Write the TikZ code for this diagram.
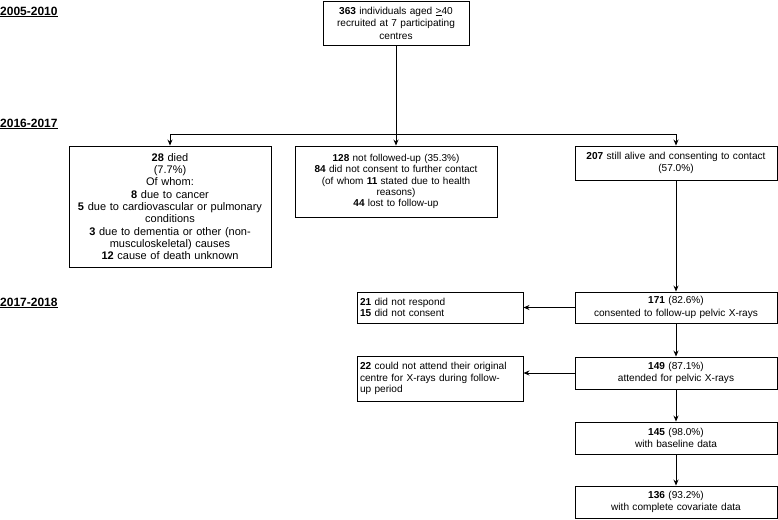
\documentclass[tikz,border=0pt]{standalone}
\usepackage{fontspec}
\setmainfont{Liberation Sans}
\usetikzlibrary{positioning,calc,arrows.meta}
\tikzset{
  box/.style={draw, line width=0.9pt, align=center, text width=196pt, inner sep=3pt, font=\fontsize{10.1}{12.4}\selectfont},
  sidebox/.style={box, align=left, text width=160pt, font=\fontsize{10.1}{11.7}\selectfont},
  year/.style={anchor=west, inner sep=0pt, font=\fontsize{12}{14}\selectfont\bfseries},
  arr/.style={-{Stealth[length=6pt,width=5pt]}, line width=0.9pt}
}
\begin{document}
\begin{tikzpicture}[x=1pt,y=-1pt]
\useasboundingbox (0,0) rectangle (778,519);
\node[year] (y1) at (0,12) {\underline{2005-2010}};
\node[year] (y2) at (0,124) {\underline{2016-2017}};
\node[year] (y3) at (0,303) {\underline{2017-2018}};
\node[box, text width=140pt, minimum height=44pt] (recruit) at (396,23) {\textbf{363} individuals aged \underline{>}40\\recruited at 7 participating\\centres};
\node[box, minimum height=121pt, font=\fontsize{11}{12.3}\selectfont] (died) at (170,206.5) {\textbf{28} died\\(7.7\%)\\Of whom:\\\textbf{8} due to cancer\\\textbf{5} due to cardiovascular or pulmonary\\conditions\\\textbf{3} due to dementia or other (non-\\musculoskeletal) causes\\\textbf{12} cause of death unknown};
\node[box, minimum height=71pt, font=\fontsize{10}{11.3}\selectfont] (notfu) at (396,181.5) {\textbf{128} not followed-up (35.3\%)\\\textbf{84} did not consent to further contact\\(of whom \textbf{11} stated due to health\\reasons)\\\textbf{44} lost to follow-up};
\node[box, minimum height=34pt] (alive) at (676,163) {\textbf{207} still alive and consenting to contact\\(57.0\%)};
\node[box, minimum height=31pt] (consent) at (676,307.5) {\textbf{171} (82.6\%)\\consented to follow-up pelvic X-rays};
\node[box, minimum height=32pt] (attend) at (676,373) {\textbf{149} (87.1\%)\\attended for pelvic X-rays};
\node[box, minimum height=32pt] (baseline) at (676,438) {\textbf{145} (98.0\%)\\with baseline data};
\node[box, minimum height=32pt] (complete) at (676,502) {\textbf{136} (93.2\%)\\with complete covariate data};
\node[sidebox, minimum height=31pt] (noresp) at (440,307.5) {\textbf{21} did not respond\\\textbf{15} did not consent};
\node[sidebox, minimum height=45pt] (noattend) at (440,378.5) {\textbf{22} could not attend their original\\centre for X-rays during follow-\\up period};
\coordinate (split) at (396,134);
\draw[line width=0.9pt] (recruit) -- (split);
\draw[arr] (split) -| (died.north);
\draw[arr] (split) -- (notfu);
\draw[arr] (split) -| (alive.north);
\draw[arr] (alive) -- (consent);
\draw[arr] (consent) -- (noresp);
\draw[arr] (consent) -- (attend);
\draw[arr] (attend.west) -- (attend.west -| noattend.east);
\draw[arr] (attend) -- (baseline);
\draw[arr] (baseline) -- (complete);
\end{tikzpicture}
\end{document}
